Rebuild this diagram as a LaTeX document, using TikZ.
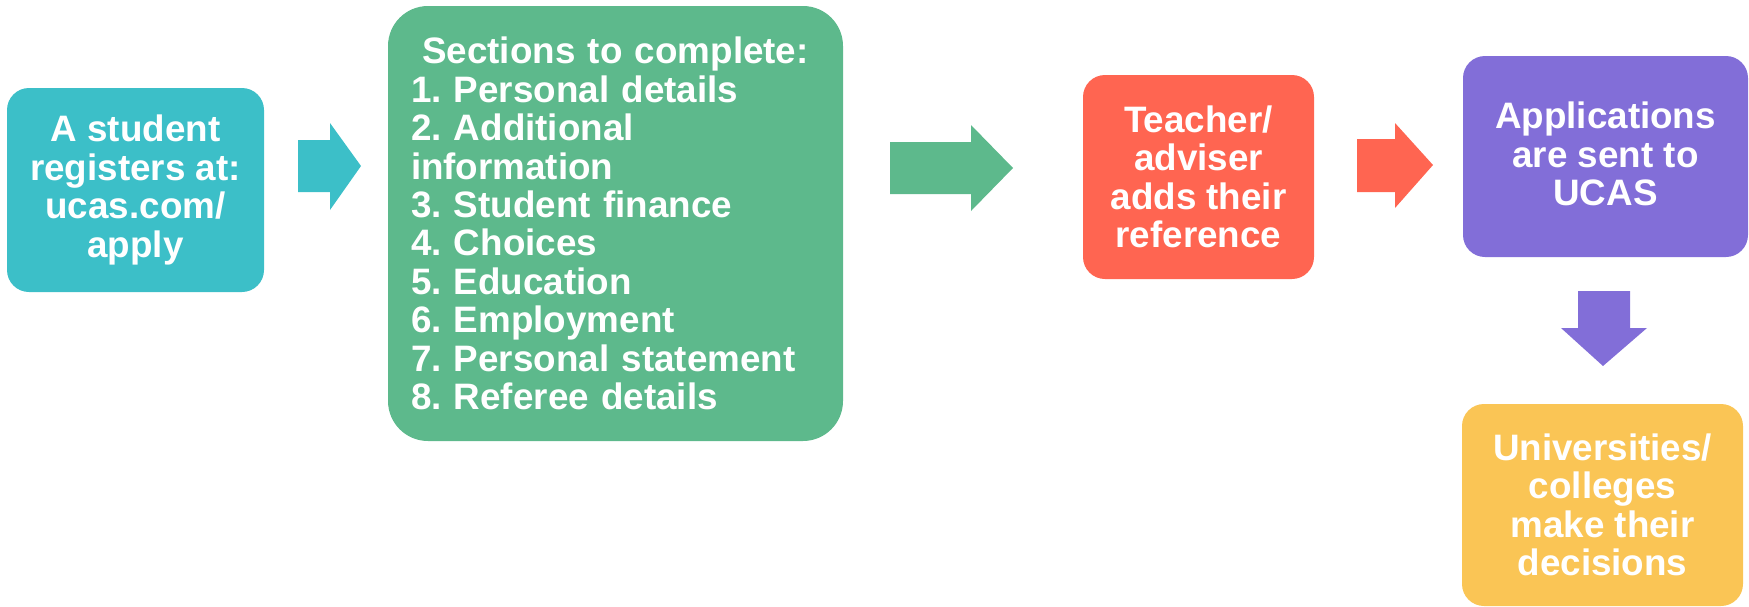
\documentclass[tikz,border=0pt]{standalone}
\usepackage{fontspec}
\setmainfont{Liberation Sans}
\frenchspacing
\definecolor{tealc}{RGB}{60,191,200}
\definecolor{greenc}{RGB}{93,185,140}
\definecolor{redc}{RGB}{255,101,81}
\definecolor{purplec}{RGB}{130,110,216}
\definecolor{yellowc}{RGB}{250,197,85}
\begin{document}
\begin{tikzpicture}[x=1pt,y=-1pt,
  box/.style={rounded corners=22pt, inner sep=0pt, text=white,
    font=\bfseries\fontsize{36.8}{38.4}\selectfont\frenchspacing, align=center}]
\useasboundingbox (0,0) rectangle (1749,606);
% boxes
\node[box, fill=tealc, minimum width=257pt, minimum height=204pt] (reg) at (135.5,190)
  {A student\\registers at:\\ucas.com/\\apply};
\node[box, fill=greenc, rounded corners=40pt, minimum width=455pt, minimum height=435pt,
  text width=409pt, align=left] (sec) at (615.5,223.5)
  {\makebox[\linewidth][c]{Sections to complete:}\\
   1. Personal details\\
   2. Additional\\
   information\\
   3. Student finance\\
   4. Choices\\
   5. Education\\
   6. Employment\\
   7. Personal statement\\
   8. Referee details};
\node[box, fill=redc, minimum width=231pt, minimum height=204pt] (ref) at (1198.5,177)
  {Teacher/\\adviser\\adds their\\reference};
\node[box, fill=purplec, minimum width=285pt, minimum height=201pt] (ucas) at (1605.5,156.5)
  {};
\node[text=white, font=\bfseries\fontsize{36.8}{38.4}\selectfont, align=center, inner sep=0pt]
  (ucastext) at (1605.5,154) {Applications\\are sent to\\UCAS};
\node[box, fill=yellowc, minimum width=281pt, minimum height=202pt] (uni) at (1602.5,505)
  {Universities/\\colleges\\make their\\decisions};
% block arrows
\fill[tealc] (298,140) -- (330,140) -- (330,123) -- (361,166) -- (330,210) -- (330,192) -- (298,192) -- cycle;
\fill[greenc] (890,142) -- (971,142) -- (971,125) -- (1013,168) -- (971,211) -- (971,194) -- (890,194) -- cycle;
\fill[redc] (1357,139) -- (1395,139) -- (1395,123) -- (1433,165) -- (1395,208) -- (1395,192) -- (1357,192) -- cycle;
\fill[purplec] (1578,291) -- (1630,291) -- (1630,328) -- (1647,328) -- (1603,366) -- (1561,328) -- (1578,328) -- cycle;
\end{tikzpicture}
\end{document}
